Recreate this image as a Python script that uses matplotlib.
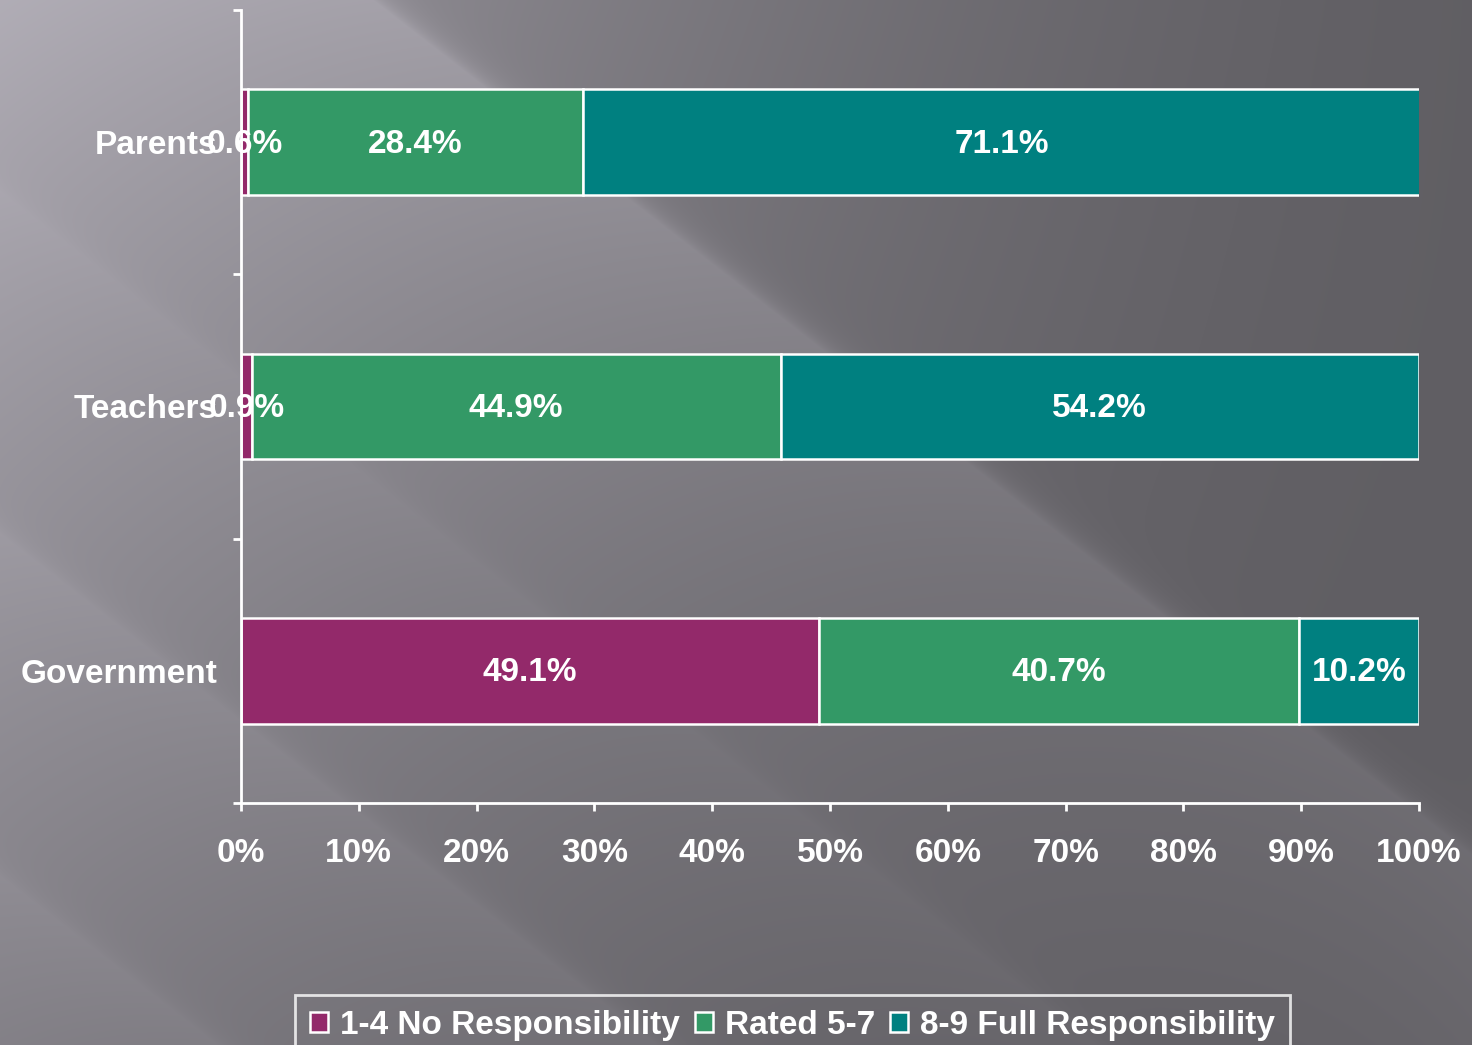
import numpy as np
import matplotlib
matplotlib.use("Agg")
import matplotlib.pyplot as plt
from matplotlib.patches import Patch

categories = ["Government", "Teachers", "Parents"]
series_names = ["1-4 No Responsibility", "Rated 5-7", "8-9 Full Responsibility"]
no_resp = [49.1, 0.9, 0.6]
rated_5_7 = [40.7, 44.9, 28.4]
full_resp = [10.2, 54.2, 71.1]
x_ticks = [0, 10, 20, 30, 40, 50, 60, 70, 80, 90, 100]
x_tick_labels = [f"{t}%" for t in x_ticks]

colors = ["#93296A", "#339966", "#008080"]

plt.rcParams['font.family'] = ['Liberation Sans', 'DejaVu Sans']
plt.rcParams['font.weight'] = 'bold'

W, H = 1472, 1045
fig = plt.figure(figsize=(W / 100, H / 100), dpi=100)

# decorative background: gradient with diagonal light streaks
yy, xx = np.mgrid[0:H, 0:W].astype(float)
u = xx / W
v = yy / H
g = 0.38 + 0.26 * (1 - u) ** 1.5 - 0.14 * v * (1 - u)
nx, ny = 0.614, -0.789
s = (xx - 373) * nx + yy * ny


def streak(s_off, amp, width):
    d = s - s_off
    return amp * np.where(d < 0, np.exp(d / width), np.exp(-d / 12.0))


g += streak(0, 0.10, 350) * (1 - 0.55 * v)
g += streak(-650, 0.035, 150)
g += streak(-920, 0.03, 120)
g += streak(-380, 0.02, 120)
g = np.clip(g, 0, 1)
img = np.clip(np.dstack([g * 1.0, g * 0.98, g * 1.03]), 0, 1)
bg = fig.add_axes([0, 0, 1, 1], zorder=-10)
bg.imshow(img, aspect='auto', extent=(0, 1, 0, 1), interpolation='bilinear')
bg.axis('off')

ax = fig.add_axes([241 / W, 1 - 803 / H, (1419 - 241) / W, (803 - 10) / H])
ax.patch.set_alpha(0)

y = np.arange(len(categories))
left = np.zeros(len(categories))
for vals, col in zip([no_resp, rated_5_7, full_resp], colors):
    vals = np.array(vals)
    ax.barh(y, vals, left=left, height=0.4, color=col, edgecolor='white', linewidth=1.8)
    for yi, l, w in zip(y, left, vals):
        ax.text(l + w / 2, yi - 0.008, f"{w:.1f}%", ha='center', va='center',
                color='white', fontsize=24, fontweight='bold')
    left = left + vals

ax.set_xlim(0, 100)
ax.set_ylim(-0.5, 2.5)
ax.set_xticks(x_ticks)
ax.set_xticklabels(x_tick_labels)
ax.set_yticks([-0.5, 0.5, 1.5, 2.5])
ax.set_yticklabels([])
ax.set_yticks(y, minor=True)
ax.set_yticklabels(categories, minor=True)
ax.tick_params(axis='y', which='minor', length=0, pad=17, labelsize=24, labelcolor='white')
ax.tick_params(axis='y', which='major', length=6, width=2, color='white', direction='out')
ax.tick_params(axis='x', length=6, width=2, color='white', direction='out', pad=19,
               labelsize=24, labelcolor='white')
for lab in ax.get_xticklabels() + ax.get_yticklabels(minor=True):
    lab.set_fontweight('bold')
for sp in ['top', 'right']:
    ax.spines[sp].set_visible(False)
for sp in ['left', 'bottom']:
    ax.spines[sp].set_color('white')
    ax.spines[sp].set_linewidth(2)

handles = [Patch(facecolor=c, edgecolor='white', linewidth=1.8) for c in colors]
leg = fig.legend(handles, series_names, loc='upper center', ncol=3,
                 bbox_to_anchor=(792.5 / W, 1 - 995 / H), bbox_transform=fig.transFigure,
                 borderaxespad=0, fontsize=24, frameon=True, fancybox=False,
                 handlelength=0.55, handleheight=0.55, handletextpad=0.35,
                 columnspacing=0.45, borderpad=0.45, labelcolor='white')
leg.get_frame().set_facecolor('none')
leg.get_frame().set_edgecolor('white')
leg.get_frame().set_linewidth(2)
for t in leg.get_texts():
    t.set_fontweight('bold')

fig.savefig("out.png", dpi=100)
